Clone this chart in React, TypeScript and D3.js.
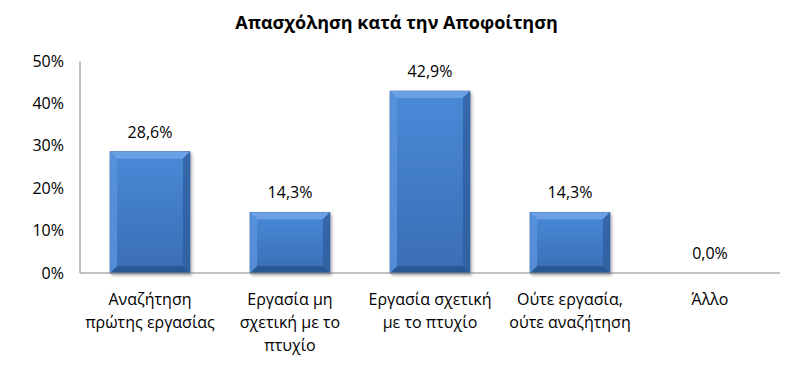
import React from "react";
import * as d3 from "d3";

const categories = [
  ["Αναζήτηση", "πρώτης εργασίας"],
  ["Εργασία μη", "σχετική με το", "πτυχίο"],
  ["Εργασία σχετική", "με το πτυχίο"],
  ["Ούτε εργασία,", "ούτε αναζήτηση"],
  ["Άλλο"],
];
const values = [28.6, 14.3, 42.9, 14.3, 0.0];
const yTicks = [0, 10, 20, 30, 40, 50];
const title = "Απασχόληση κατά την Αποφοίτηση";

const W = 793, H = 366;
const left = 80, right = 780, top = 61, bottom = 273;

export default function App() {
  const x = d3.scaleBand<number>().domain(values.map((_, i) => i)).range([left, right]).paddingInner(0.43).paddingOuter(0.215);
  const y = d3.scaleLinear().domain([0, 50]).range([bottom, top]);
  const font = "'Open Sans', sans-serif";
  const fmt = (v: number) => v.toFixed(1).replace(".", ",") + "%";
  const bw = x.bandwidth();
  const bev = 7;
  return (
    <div style={{ margin: -8 }}>
      <svg width={W} height={H} style={{ display: "block", background: "#fff" }}>
        <defs>
          <linearGradient id="face" x1="0" y1="0" x2="0" y2="1">
            <stop offset="0" stopColor="#4a8ad8" />
            <stop offset="1" stopColor="#3a6db5" />
          </linearGradient>
          <filter id="sh" x="-20%" y="-20%" width="140%" height="140%">
            <feDropShadow dx="1.5" dy="2" stdDeviation="1.5" floodColor="#000" floodOpacity="0.35" />
          </filter>
        </defs>
        <text x={W / 2} y={29} textAnchor="middle" fontFamily={font} fontWeight="bold" fontSize={18} fill="#000">{title}</text>
        {yTicks.map((t) => (
          <text key={t} x={64} y={y(t) + 5.5} textAnchor="end" fontFamily={font} fontSize={16} fill="#000">{t}%</text>
        ))}
        <line x1={left} x2={left} y1={top} y2={bottom} stroke="#868686" strokeWidth={1} />
        {values.map((v, i) => {
          const x0 = x(i)!;
          const y0 = y(v);
          const h = bottom - y0;
          const cx = x0 + bw / 2;
          return (
            <g key={i}>
              {h > 0 && (
                <g filter="url(#sh)">
                  <rect x={x0} y={y0} width={bw} height={h} fill="url(#face)" stroke="#2d5a96" strokeWidth={0.8} />
                  <polygon points={`${x0},${y0} ${x0 + bw},${y0} ${x0 + bw - bev},${y0 + bev} ${x0 + bev},${y0 + bev}`} fill="#6fa3e6" opacity={0.9} />
                  <polygon points={`${x0},${y0} ${x0 + bev},${y0 + bev} ${x0 + bev},${bottom - bev} ${x0},${bottom}`} fill="#5a94de" opacity={0.8} />
                  <polygon points={`${x0 + bw},${y0} ${x0 + bw - bev},${y0 + bev} ${x0 + bw - bev},${bottom - bev} ${x0 + bw},${bottom}`} fill="#2f5f9f" opacity={0.8} />
                  <polygon points={`${x0},${bottom} ${x0 + bev},${bottom - bev} ${x0 + bw - bev},${bottom - bev} ${x0 + bw},${bottom}`} fill="#2a5590" opacity={0.85} />
                </g>
              )}
              <text x={cx} y={y0 - 14} textAnchor="middle" fontFamily={font} fontSize={16} fill="#000">{fmt(v)}</text>
              {categories[i].map((line, j) => (
                <text key={j} x={cx} y={305 + j * 23} textAnchor="middle" fontFamily={font} fontSize={16} fill="#000">{line}</text>
              ))}
            </g>
          );
        })}
        <line x1={left} x2={right} y1={bottom} y2={bottom} stroke="#868686" strokeWidth={1} />
      </svg>
    </div>
  );
}
